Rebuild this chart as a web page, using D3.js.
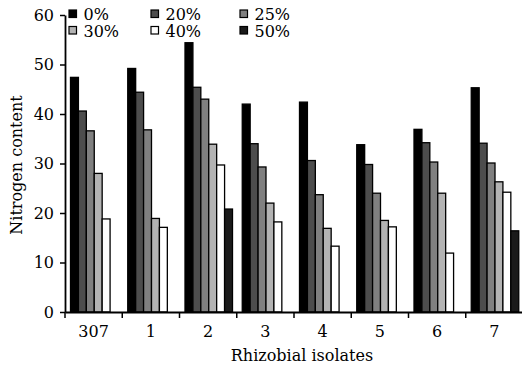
<!DOCTYPE html>
<html>
<head>
<meta charset="utf-8">
<script src="https://cdn.jsdelivr.net/npm/d3@7"></script>
<style>
  body { margin: 0; background: #fff; }
  svg { display: block; }
  svg text { font-family: "DejaVu Serif", serif; fill: #000; }
</style>
</head>
<body>
<div id="chart"></div>
<script>
/**
 * CONSTANTS AND DATA
 * */
const width = 522,
  height = 368,
  margin = { top: 15, bottom: 56, left: 65, right: -1 };

const isolates = ["307", "1", "2", "3", "4", "5", "6", "7"];
const levels = ["0%", "20%", "25%", "30%", "40%", "50%"];
const fills = ["#000000", "#4d4d4d", "#808080", "#b3b3b3", "#ffffff", "#1a1a1a"];

// nitrogen content for each level, one value per isolate (null = no bar)
const n0 = [47.4, 49.2, 54.4, 42.0, 42.4, 33.8, 36.9, 45.3];
const n20 = [40.6, 44.4, 45.4, 34.0, 30.6, 29.8, 34.2, 34.1];
const n25 = [36.6, 36.8, 43.0, 29.3, 23.7, 24.0, 30.3, 30.1];
const n30 = [28.0, 18.9, 33.9, 22.0, 16.9, 18.5, 24.0, 26.3];
const n40 = [18.8, 17.1, 29.7, 18.2, 13.3, 17.2, 11.9, 24.2];
const n50 = [null, null, 20.8, null, null, null, null, 16.4];

const yTicks = [0, 10, 20, 30, 40, 50, 60];

const series = [n0, n20, n25, n30, n40, n50];
const legendCols = [69, 151, 240];

const svg = d3.select("#chart")
  .append("svg")
  .attr("width", width)
  .attr("height", height);

const x0 = d3.scaleBand()
  .domain(isolates)
  .range([margin.left, width - margin.right]);

const x1 = d3.scaleBand()
  .domain(levels)
  .range([5.5, 53]);

const y = d3.scaleLinear()
  .domain([0, 60])
  .range([height - margin.bottom, margin.top]);

// bars
const rows = [];
isolates.forEach((iso, i) => {
  levels.forEach((lv, j) => {
    if (series[j][i] != null) rows.push({ iso, lv, j, value: series[j][i] });
  });
});

svg.append("g")
  .selectAll("rect")
  .data(rows)
  .join("rect")
  .attr("x", d => x0(d.iso) + x1(d.lv))
  .attr("y", d => y(d.value))
  .attr("width", x1.bandwidth())
  .attr("height", d => y(0) - y(d.value))
  .attr("fill", d => fills[d.j])
  .attr("stroke", "#000")
  .attr("stroke-width", 1.3);

// y axis
const yAxis = svg.append("g")
  .attr("transform", `translate(${margin.left},0)`)
  .call(d3.axisLeft(y).tickValues(yTicks).tickSize(5).tickSizeOuter(0).tickPadding(6));
yAxis.attr("font-family", null);
yAxis.select(".domain").attr("stroke-width", 1.8);
yAxis.selectAll(".tick line").attr("stroke-width", 1.5);
yAxis.selectAll("text").attr("font-size", 16);

// x axis: labels in centre, ticks at the group edges
const xAxis = svg.append("g")
  .attr("transform", `translate(0,${y(0)})`)
  .call(d3.axisBottom(x0).tickSize(0).tickSizeOuter(0).tickPadding(14));
xAxis.attr("font-family", null);
xAxis.select(".domain").attr("stroke-width", 1.8);
xAxis.selectAll("text").attr("font-size", 16);

svg.append("g")
  .selectAll("line")
  .data(isolates)
  .join("line")
  .attr("x1", d => x0(d))
  .attr("x2", d => x0(d))
  .attr("y1", y(0))
  .attr("y2", y(0) + 6)
  .attr("stroke", "#000")
  .attr("stroke-width", 1.5);

// axis titles
svg.append("text")
  .attr("x", 302)
  .attr("y", 361)
  .attr("text-anchor", "middle")
  .attr("font-size", 16)
  .text("Rhizobial isolates");

svg.append("text")
  .attr("transform", "translate(21.5,165) rotate(-90)")
  .attr("text-anchor", "middle")
  .attr("font-size", 16)
  .text("Nitrogen content");

// legend
const legend = svg.append("g")
  .selectAll("g")
  .data(levels)
  .join("g")
  .attr("transform", (d, i) => `translate(${legendCols[i % 3]},${10 + Math.floor(i / 3) * 16.5})`);

legend.append("rect")
  .attr("width", 7.5)
  .attr("height", 7.5)
  .attr("fill", (d, i) => fills[i])
  .attr("stroke", "#000")
  .attr("stroke-width", 1.2);

legend.append("text")
  .attr("x", 14.5)
  .attr("y", 10)
  .attr("font-size", 16)
  .text(d => d);
</script>
</body>
</html>
